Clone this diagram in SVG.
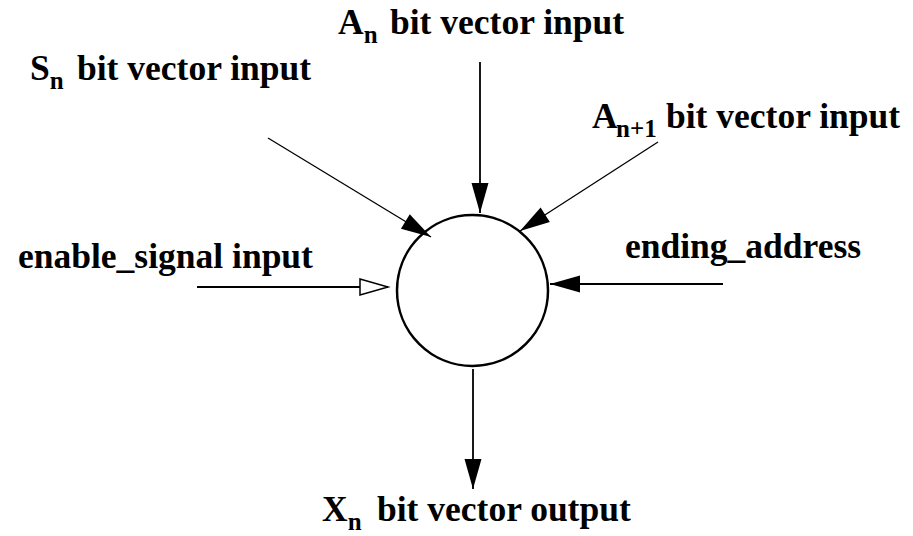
<svg xmlns="http://www.w3.org/2000/svg" width="913" height="536" viewBox="0 0 913 536">
<style>
.t{font-family:'Liberation Serif','Times New Roman',serif;font-weight:bold;font-size:35.5px;fill:#000}
.sub{font-size:25px}
.c{stroke:#000;fill:none}
.thin{stroke-width:1.3}
.med{stroke-width:1.8}
</style>
<defs>
<marker id="ah" markerUnits="userSpaceOnUse" markerWidth="32" markerHeight="20" refX="30" refY="8.5" orient="auto" overflow="visible">
<path d="M0,0 L30,8.5 L0,17 z" fill="#000"/>
</marker>
<marker id="ahh" markerUnits="userSpaceOnUse" markerWidth="32" markerHeight="20" refX="28" refY="8" orient="auto" overflow="visible">
<path d="M0,0 L28,8 L0,16 z" fill="#fff" stroke="#000" stroke-width="1.5"/>
</marker>
</defs>
<g id="node-circle">
<circle cx="472.5" cy="290.5" r="75.5" fill="#fff" stroke="#000" stroke-width="2.5"/>
</g>
<g id="connectors">
<line class="c thin" x1="268" y1="138" x2="431" y2="237" marker-end="url(#ah)"/>
<line class="c med" x1="480" y1="62" x2="480" y2="213" marker-end="url(#ah)"/>
<line class="c thin" x1="658" y1="142" x2="520" y2="231" marker-end="url(#ah)"/>
<line class="c med" x1="197" y1="287" x2="388" y2="287" marker-end="url(#ahh)"/>
<line class="c med" x1="723" y1="284" x2="550" y2="284" marker-end="url(#ah)"/>
<line class="c med" x1="473" y1="369" x2="473" y2="489" marker-end="url(#ah)"/>
</g>
<g id="label-an">
<text class="t" x="338" y="34">A<tspan class="sub" dy="9">n</tspan><tspan x="390" dy="-9">bit vector input</tspan></text>
</g>
<g id="label-sn">
<text class="t" x="30" y="80">S<tspan class="sub" dy="9">n</tspan><tspan x="77" dy="-9">bit vector input</tspan></text>
</g>
<g id="label-an1">
<text class="t" x="592" y="128">A<tspan class="sub" x="616" dy="9">n+1</tspan><tspan x="666" dy="-9">bit vector input</tspan></text>
</g>
<g id="label-enable">
<text class="t" x="18" y="268">enable_signal input</text>
</g>
<g id="label-ending">
<text class="t" x="625" y="258">ending_address</text>
</g>
<g id="label-xn">
<text class="t" x="322" y="521">X<tspan class="sub" dy="9">n</tspan><tspan x="377" dy="-9">bit vector output</tspan></text>
</g>
</svg>
